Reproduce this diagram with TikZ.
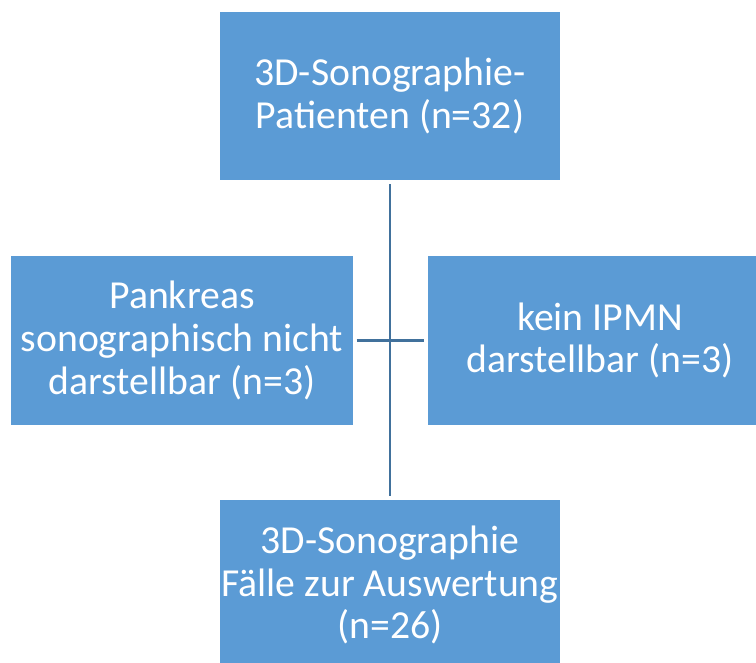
\documentclass[tikz,border=0pt]{standalone}
\usepackage{fontspec}
\setmainfont{Carlito}
\usetikzlibrary{positioning}
\definecolor{boxblue}{HTML}{5B9BD5}
\definecolor{lineblue}{HTML}{41719C}

\begin{document}
\begin{tikzpicture}[x=0.02cm, y=-0.02cm,
    flowbox/.style={fill=boxblue, text=white, align=center, inner sep=0pt,
        minimum width=6.8cm, minimum height=3.38cm,
        font=\fontsize{22.6}{24.4}\selectfont},
    link/.style={draw=lineblue, line width=1.6pt, shorten >=1.9pt, shorten <=1.9pt}]
    \useasboundingbox (0,0) rectangle (756,662);
    % Kaestchen
    \node[flowbox] (patienten) at (390,96) {3D-Sonographie-\\Patienten (n=32)};
    \node[flowbox, minimum width=6.84cm] (pankreas) at (182,340.5) {Pankreas\\sonographisch nicht\\darstellbar (n=3)};
    \node[flowbox, minimum width=6.88cm] (ipmn) at (600,340.5) {kein IPMN\\darstellbar (n=3)};
    \node[flowbox, minimum height=3.4cm] (auswertung) at (390,585) {3D-Sonographie\\F\"alle zur Auswertung\\(n=26)};
    % Linien
    \draw[link] (patienten) -- (auswertung);
    \draw[link] (pankreas) -- (ipmn);
\end{tikzpicture}
\end{document}
